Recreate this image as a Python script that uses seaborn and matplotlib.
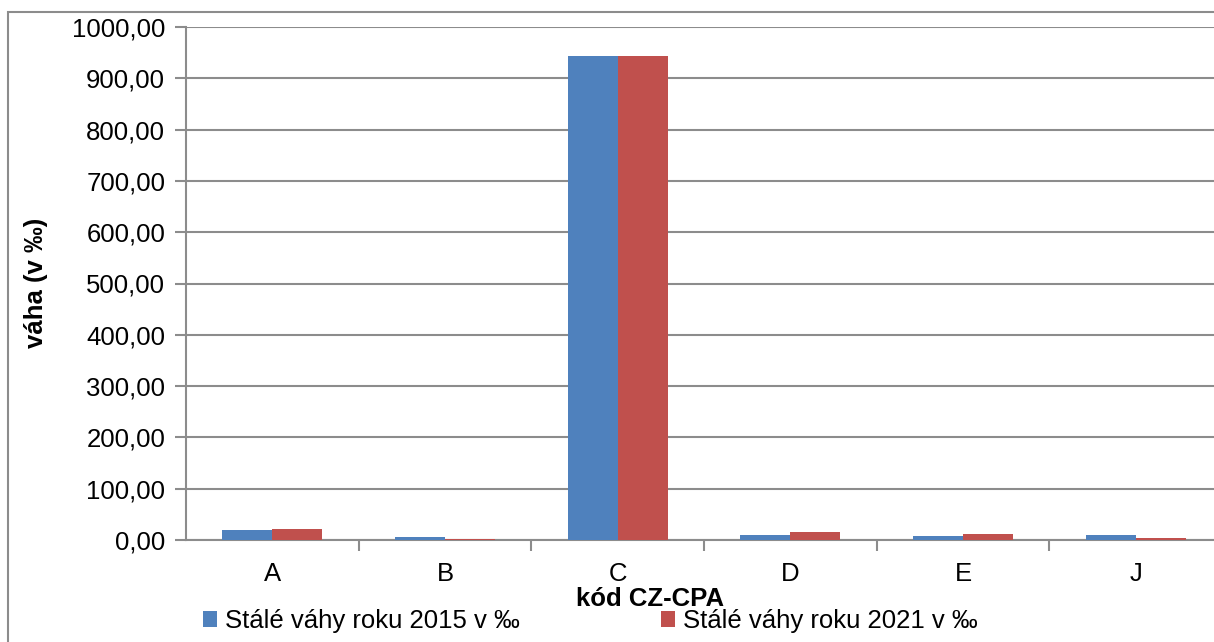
import seaborn as sns
import pandas as pd
import matplotlib.pyplot as plt
from matplotlib.patches import Rectangle
from matplotlib.ticker import FuncFormatter, FixedLocator

kody = ['A', 'B', 'C', 'D', 'E', 'J']
vahy_2015 = [19.5, 5.5, 943.0, 10.0, 7.0, 10.0]
vahy_2021 = [21.0, 2.0, 943.0, 15.0, 11.0, 4.0]
serie = ['Stálé váhy roku 2015 v ‰', 'Stálé váhy roku 2021 v ‰']
barvy = ['#4F81BD', '#C0504D']

df = pd.DataFrame({
    'kod': kody * 2,
    'vaha': vahy_2015 + vahy_2021,
    'serie': [serie[0]] * len(kody) + [serie[1]] * len(kody),
})

sns.set_style('white', {'text.color': 'black', 'axes.labelcolor': 'black',
                        'xtick.color': 'black', 'ytick.color': 'black'})
plt.rcParams['font.family'] = ['Liberation Sans', 'DejaVu Sans']
seda = '#8C8C8C'

fig = plt.figure(figsize=(12.14, 6.42), dpi=100)
ax = fig.add_axes([186 / 1214, 1 - 540 / 642, 1036 / 1214, 513 / 642])

sns.barplot(data=df, x='kod', y='vaha', hue='serie', palette=barvy,
            width=0.58, gap=0, linewidth=0, saturation=1, ax=ax, zorder=3)

ax.set_ylim(0, 1000)
ax.set_xlim(-0.5, len(kody) - 0.5)
ax.yaxis.set_major_locator(FixedLocator(range(0, 1001, 100)))
ax.yaxis.set_major_formatter(FuncFormatter(lambda v, p: f'{v:.2f}'.replace('.', ',')))
ax.grid(axis='y', color=seda, linewidth=1.5, zorder=0)
ax.set_axisbelow(True)

for s in ['top', 'right']:
    ax.spines[s].set_visible(False)
for s in ['left', 'bottom']:
    ax.spines[s].set_color(seda)
    ax.spines[s].set_linewidth(1.5)

ax.tick_params(axis='y', left=True, length=8, width=1.5, color=seda,
               labelcolor='black', labelsize=18.5, pad=7)
ax.tick_params(axis='x', bottom=False, labelcolor='black', labelsize=18.5, pad=12)
ax.set_xticks(range(len(kody)))
ax.set_xticks([i + 0.5 for i in range(len(kody) - 1)], minor=True)
ax.tick_params(axis='x', which='minor', bottom=True, length=8, width=1.5, color=seda)

ax.set_xlabel('kód CZ-CPA', fontsize=18.5, fontweight='bold', color='black')
ax.xaxis.set_label_coords((650 - 186) / 1036, -(587 - 540) / 513)
ax.set_ylabel('váha (v ‰)', fontsize=18.5, fontweight='bold', color='black')
ax.yaxis.set_label_coords(-(186 - 48) / 1036, (540 - 283) / 513)

handles, labels = ax.get_legend_handles_labels()
leg = ax.legend(handles, labels, loc='center left', ncol=2, frameon=False,
                bbox_to_anchor=((203 - 186) / 1036, -(621 - 540) / 513),
                fontsize=18.5, handlelength=0.55, handleheight=0.55, handletextpad=0.3,
                columnspacing=5.5, borderaxespad=0, borderpad=0)
for t in leg.get_texts():
    t.set_color('black')

fig.patches.append(Rectangle((8 / 1214, -0.1), 1.2, 1.1 - 12 / 642,
                             transform=fig.transFigure, fill=False,
                             edgecolor=seda, linewidth=1.5))

fig.savefig('out.png', dpi=100)
